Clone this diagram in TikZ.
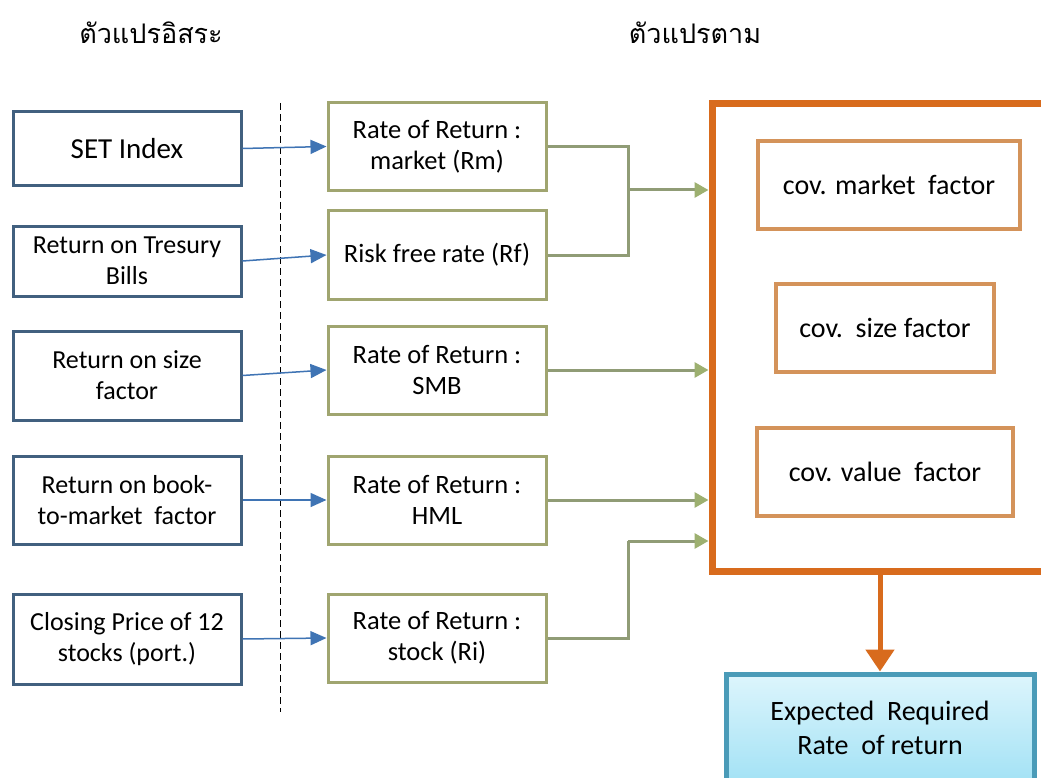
\documentclass[tikz,border=0pt]{standalone}
\usepackage{fontspec}
\setmainfont{Carlito}
\newfontfamily\thaifont[Script=Thai]{Loma}
\usetikzlibrary{arrows.meta}
\definecolor{lbord}{HTML}{41607F}
\definecolor{barrow}{HTML}{3F74B4}
\definecolor{mbord}{HTML}{A0A570}
\definecolor{gline}{HTML}{909C76}
\definecolor{ghead}{HTML}{9DB070}
\definecolor{obord}{HTML}{D86B1D}
\definecolor{ibord}{HTML}{D4935A}
\definecolor{tbord}{HTML}{4A9BB8}
\definecolor{ctop}{HTML}{DDF5FC}
\definecolor{cbot}{HTML}{A3E2F5}
\tikzset{
  lbox/.style={draw=lbord, line width=3pt, minimum width=228pt, align=center, inner sep=0pt,
    font=\fontsize{26}{31}\selectfont},
  mbox/.style={draw=mbord, line width=3pt, minimum width=218pt, minimum height=88pt, align=center, inner sep=0pt,
    font=\fontsize{26.5}{31}\selectfont},
  ibox/.style={draw=ibord, line width=4pt, minimum height=88pt, align=center, inner sep=0pt,
    font=\fontsize{28}{33}\selectfont},
  barr/.style={draw=barrow, line width=1.5pt, -{Triangle[length=16pt,width=14pt]}},
  gl/.style={draw=gline, line width=3pt},
  garr/.style={draw=gline, line width=3pt, -{Triangle[length=14pt,width=15pt,color=ghead]}},
  head/.style={font=\thaifont\fontsize{27}{32}\selectfont}
}
\begin{document}
\begin{tikzpicture}[x=1pt,y=-1pt]
\useasboundingbox (0,0) rectangle (1041,778);
\clip (0,0) rectangle (1041,778);
\fill[white] (0,0) rectangle (1041,778);

\node[head] (h1) at (151,33) {ตัวแปรอิสระ};
\node[head] (h2) at (695,33) {ตัวแปรตาม};

% left column
\node[lbox, minimum height=74pt, font=\fontsize{29}{34}\selectfont] (l1) at (127,148.5) {SET Index};
\node[lbox, minimum height=70pt] (l2) at (127,261) {Return on Tresury\\Bills};
\node[lbox, minimum height=89pt] (l3) at (127,375.5) {Return on size\\factor};
\node[lbox, minimum height=88pt] (l4) at (127,500) {Return on book-\\to-market\ \ factor};
\node[lbox, minimum height=90pt] (l5) at (127,639) {Closing Price of 12\\stocks (port.)};

% dashed separator
\coordinate (d1) at (280,103);
\coordinate (d2) at (280,712);
\draw[dash pattern=on 7pt off 4pt, line width=1pt] (d1) -- (d2);

% middle column
\node[mbox] (m1) at (437,146.5) {Rate of Return :\\market (Rm)};
\node[mbox] (m2) at (437,255) {Risk free rate (Rf)};
\node[mbox] (m3) at (437,370) {Rate of Return :\\SMB};
\node[mbox] (m4) at (437,500) {Rate of Return :\\HML};
\node[mbox] (m5) at (437,638) {Rate of Return :\\stock (Ri)};

\draw[barr] (l1.east) -- (m1.west);
\draw[barr] (l2.east) -- (m2.west);
\draw[barr] (l3.east) -- (m3.west);
\draw[barr] (l4.east) -- (m4.west);
\draw[barr] (l5.east) -- (m5.west);

% right big box
\node[draw=obord, line width=7pt, minimum width=358pt, minimum height=468pt, inner sep=0pt] (outer) at (891,337.5) {};
\node[ibox, minimum width=262pt] (c1) at (889,185) {cov. market\ \ factor};
\node[ibox, minimum width=218pt] (c2) at (885,328) {cov.\ \ size factor};
\node[ibox, minimum width=256pt] (c3) at (885,472) {cov. value\ \ factor};

% green connectors
\coordinate (j1) at (628,190);
\coordinate (j2) at (628,541);
\draw[gl] (m1.east) -| (j1) |- (m2.east);
\draw[garr] (j1) -- (outer.west |- j1);
\draw[garr] (m3.east) -- (outer.west |- m3.east);
\draw[garr] (m4.east) -- (outer.west |- m4.east);
\draw[gl] (m5.east) -| (j2);
\draw[garr] (j2) -- (outer.west |- j2);

% result box
\node[draw=tbord, line width=5pt, top color=ctop, bottom color=cbot, minimum width=308pt, minimum height=108pt,
  align=center, inner sep=0pt, font=\fontsize{28}{34}\selectfont] (res) at (880,728) {Expected\ \ Required\\Rate\ \ of return};
\draw[draw=obord, line width=5pt, -{Triangle[length=22pt,width=28pt]}] (outer.south -| res.north) -- (res.north);
\end{tikzpicture}
\end{document}
